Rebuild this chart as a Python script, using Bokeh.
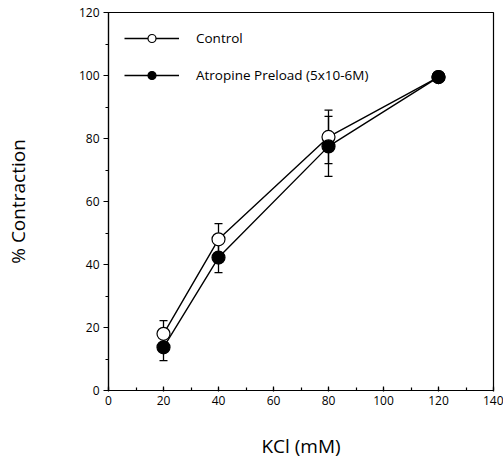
from bokeh.plotting import figure
from bokeh.models import (ColumnDataSource, Whisker, TeeHead, Legend, LegendItem,
                          FixedTicker, Range1d)
from bokeh.embed import file_html
from bokeh.resources import INLINE

# data
kcl = [20, 40, 80, 120]
control = [18, 48, 80.5, 99.5]
control_err = [4.2, 5.0, 8.5, 0]
atropine = [13.7, 42.2, 77.5, 99.5]
atropine_err = [4.2, 4.8, 9.5, 0]

x_ticks = [0, 20, 40, 60, 80, 100, 120, 140]
y_ticks = [0, 20, 40, 60, 80, 100, 120]

FONT = "Open Sans"

p = figure(width=503, height=468, output_backend="svg", toolbar_location=None,
           x_range=Range1d(0, 140), y_range=Range1d(0, 120),
           min_border_left=108, min_border_right=10, min_border_top=12,
           min_border_bottom=78)
p.grid.visible = False
p.outline_line_color = "black"
p.outline_line_width = 1.2
p.background_fill_color = "white"
p.border_fill_color = "white"

# axes
p.xaxis.ticker = FixedTicker(ticks=x_ticks, minor_ticks=list(range(0, 141, 10)))
p.yaxis.ticker = FixedTicker(ticks=y_ticks, minor_ticks=list(range(0, 121, 10)))
for ax in (p.xaxis[0], p.yaxis[0]):
    ax.axis_line_color = "black"
    ax.axis_line_width = 1.2
    ax.major_tick_line_width = 1.2
    ax.minor_tick_line_width = 1.2
    ax.major_label_text_font = FONT
    ax.major_label_text_font_size = "12px"
    ax.major_label_text_color = "black"
    ax.axis_label_text_font = FONT
    ax.axis_label_text_font_size = "19px"
    ax.axis_label_text_font_style = "normal"
    ax.axis_label_text_color = "black"

p.xaxis.major_tick_in = 4
p.xaxis.major_tick_out = 1
p.xaxis.minor_tick_in = 3
p.xaxis.minor_tick_out = 0
p.xaxis.major_label_standoff = 4
p.xaxis.axis_label = "KCl (mM)"
p.xaxis.axis_label_standoff = 25

p.yaxis.major_tick_in = 0
p.yaxis.major_tick_out = 5
p.yaxis.minor_tick_in = 0
p.yaxis.minor_tick_out = 3
p.yaxis.major_label_standoff = 4
p.yaxis.axis_label = "% Contraction"
p.yaxis.axis_label_standoff = 45

src_c = ColumnDataSource(dict(x=kcl, y=control,
                              lo=[v - e for v, e in zip(control, control_err)],
                              hi=[v + e for v, e in zip(control, control_err)]))
src_a = ColumnDataSource(dict(x=kcl, y=atropine,
                              lo=[v - e for v, e in zip(atropine, atropine_err)],
                              hi=[v + e for v, e in zip(atropine, atropine_err)]))

for src in (src_a, src_c):
    w = Whisker(source=src, base="x", lower="lo", upper="hi",
                line_color="black", line_width=1.3,
                upper_head=TeeHead(size=8, line_color="black", line_width=1.3),
                lower_head=TeeHead(size=8, line_color="black", line_width=1.3))
    p.add_layout(w)

lc = p.line("x", "y", source=src_c, line_color="black", line_width=1.4)
la = p.line("x", "y", source=src_a, line_color="black", line_width=1.4)
sc = p.scatter("x", "y", source=src_c, size=13, marker="circle",
               fill_color="white", line_color="black", line_width=1.2)
sa = p.scatter("x", "y", source=src_a, size=13, marker="circle",
               fill_color="black", line_color="black", line_width=1.2)

legend = Legend(items=[LegendItem(label="Control", renderers=[lc, sc]),
                       LegendItem(label="Atropine Preload (5x10-6M)", renderers=[la, sa])],
                location="top_left", border_line_color=None,
                background_fill_alpha=0, margin=16, padding=0,
                glyph_width=55, glyph_height=20, label_height=20,
                spacing=17, label_standoff=17,
                label_text_font=FONT, label_text_font_size="13.5px",
                label_text_color="black")
p.add_layout(legend)

open("out.html", "w").write(file_html(p, INLINE))
